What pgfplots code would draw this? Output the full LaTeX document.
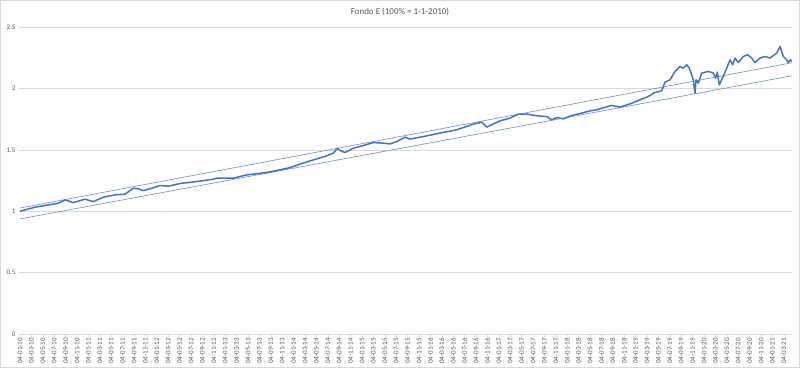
\documentclass[border=0pt]{standalone}
\usepackage{pgfplots}
\pgfplotsset{compat=1.18}
\usepackage{pgfplotstable}
\usepackage{fontspec}
\setmainfont{Carlito}
\definecolor{xlblue}{RGB}{68,114,196}
\definecolor{trendblue}{RGB}{115,145,218}
\definecolor{txtgray}{RGB}{89,89,89}
\definecolor{gridgray}{RGB}{217,217,217}

\pgfplotstableread{
x v
0.00 1.000
1.32 1.033
2.48 1.051
3.36 1.065
3.95 1.092
4.68 1.070
5.70 1.098
6.43 1.078
7.31 1.114
8.33 1.133
9.21 1.139
9.94 1.187
10.38 1.182
10.82 1.168
11.55 1.187
12.28 1.209
13.01 1.204
14.18 1.228
14.76 1.233
15.94 1.247
16.96 1.261
17.25 1.269
18.71 1.269
19.89 1.296
21.64 1.315
22.81 1.337
23.68 1.355
24.56 1.383
25.73 1.418
26.90 1.451
27.48 1.473
27.83 1.513
28.07 1.494
28.51 1.478
29.24 1.513
30.11 1.535
30.99 1.559
31.87 1.554
32.46 1.548
33.04 1.567
33.77 1.603
34.21 1.587
35.38 1.608
36.84 1.636
38.31 1.663
39.76 1.709
40.50 1.725
40.94 1.685
41.23 1.698
42.11 1.736
42.98 1.758
43.71 1.791
44.45 1.791
45.32 1.777
46.20 1.771
46.64 1.744
47.08 1.763
47.66 1.752
48.39 1.779
49.27 1.799
50.00 1.817
50.59 1.826
51.90 1.861
52.63 1.848
53.51 1.874
54.39 1.907
55.11 1.934
55.70 1.967
56.29 1.980
56.58 2.051
57.02 2.070
57.46 2.138
57.89 2.178
58.18 2.165
58.48 2.192
58.71 2.165
58.92 2.111
59.06 2.070
59.21 1.962
59.30 2.070
59.50 2.043
59.80 2.125
60.38 2.138
60.82 2.125
61.03 2.084
61.17 2.133
61.34 2.029
61.55 2.070
61.99 2.165
62.28 2.233
62.52 2.192
62.72 2.247
63.01 2.211
63.45 2.260
63.83 2.274
64.18 2.247
64.47 2.211
64.91 2.247
65.35 2.260
65.79 2.247
66.38 2.288
66.67 2.341
66.96 2.260
67.25 2.233
67.39 2.211
67.60 2.233
67.69 2.219
}\fund

\begin{document}
\begin{tikzpicture}[x=1pt,y=1pt]
\useasboundingbox (0,0) rectangle (800,368);
\draw[gridgray] (0.5,0.5) rectangle (799.5,367.5);
\node[font=\fontsize{9}{11}\selectfont, text=txtgray] at (400,356) {Fondo E (100\% = 1-1-2010)};
\begin{axis}[
  at={(19pt,34pt)}, anchor=south west,
  scale only axis, width=773pt, height=307pt,
  xmin=-0.09, xmax=67.72,
  ymin=0, ymax=2.5,
  ytick={0,0.5,1,1.5,2,2.5},
  yticklabels={0,0.5,1,1.5,2,2.5},
  ymajorgrids, grid style={gridgray, line width=0.6pt},
  axis x line*=bottom, axis y line*=left,
  y axis line style={draw=none},
  x axis line style={gridgray, line width=0.6pt},
  ytick style={draw=none},
  xtick style={gridgray, line width=0.6pt},
  xtick align=outside, major tick length=3pt,
  xtick={0,...,67},
  xticklabels={04-01-10,04-03-10,04-05-10,04-07-10,04-09-10,04-11-10,
   04-01-11,04-03-11,04-05-11,04-07-11,04-09-11,04-11-11,
   04-01-12,04-03-12,04-05-12,04-07-12,04-09-12,04-11-12,
   04-01-13,04-03-13,04-05-13,04-07-13,04-09-13,04-11-13,
   04-01-14,04-03-14,04-05-14,04-07-14,04-09-14,04-11-14,
   04-01-15,04-03-15,04-05-15,04-07-15,04-09-15,04-11-15,
   04-01-16,04-03-16,04-05-16,04-07-16,04-09-16,04-11-16,
   04-01-17,04-03-17,04-05-17,04-07-17,04-09-17,04-11-17,
   04-01-18,04-03-18,04-05-18,04-07-18,04-09-18,04-11-18,
   04-01-19,04-03-19,04-05-19,04-07-19,04-09-19,04-11-19,
   04-01-20,04-03-20,04-05-20,04-07-20,04-09-20,04-11-20,
   04-01-21,04-03-21},
  x tick label style={rotate=90, anchor=east, font=\fontsize{7}{8}\selectfont, text=txtgray, inner sep=1pt},
  y tick label style={font=\fontsize{7}{8}\selectfont, text=txtgray},
  /pgf/number format/assume math mode=true,
  clip=false,
]
\addplot[trendblue, line width=0.65pt] coordinates {(0,1.026) (67.72,2.209)};
\addplot[trendblue, line width=0.65pt] coordinates {(0,0.937) (67.72,2.103)};
\addplot[xlblue, line width=1.5pt, line join=round, sharp plot] table[x=x,y=v] {\fund};
\end{axis}
\end{tikzpicture}
\end{document}
